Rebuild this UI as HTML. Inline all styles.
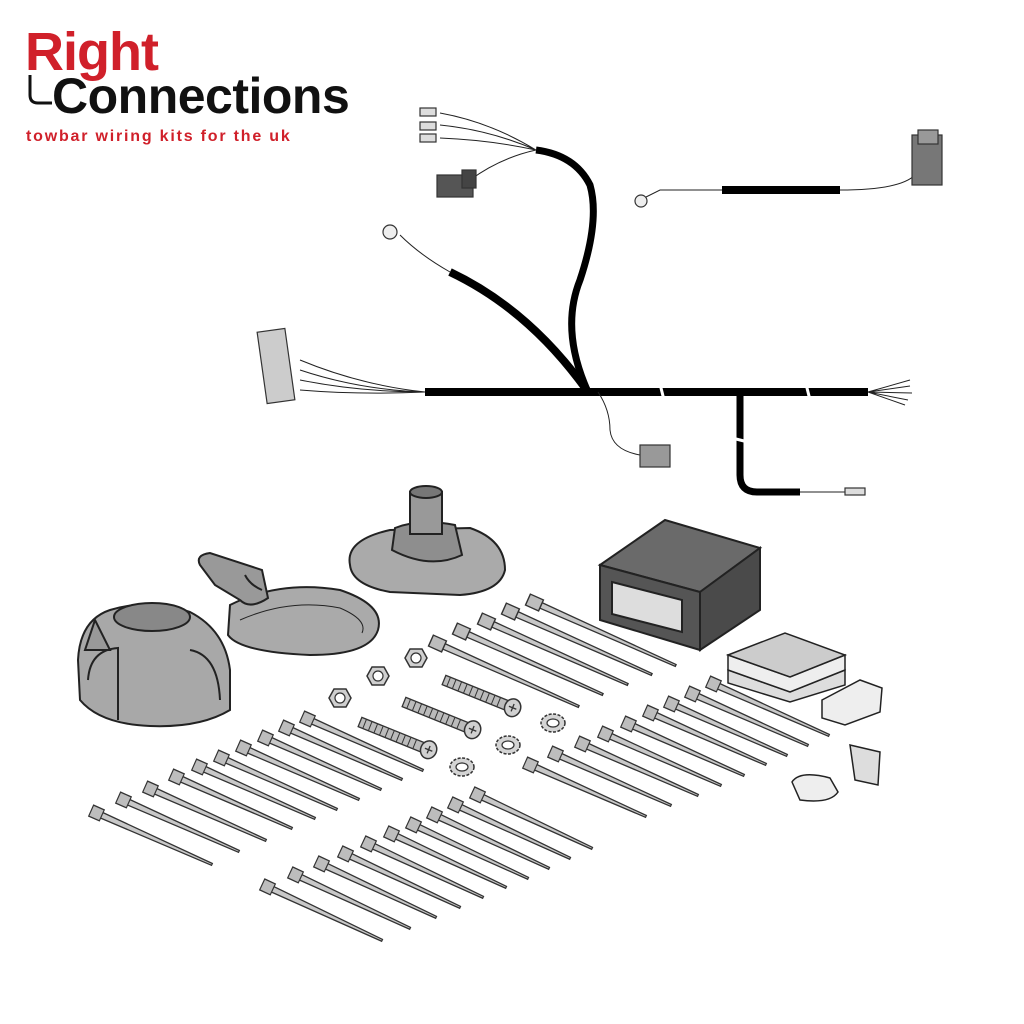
<!DOCTYPE html>
<html><head><meta charset="utf-8"><style>
html,body{margin:0;padding:0;background:#fff;width:1024px;height:1024px;overflow:hidden}
svg{display:block}
</style></head><body>
<svg width="1024" height="1024" viewBox="0 0 1024 1024" xmlns="http://www.w3.org/2000/svg">
<defs>
<g id="tie">
  <polygon points="0,-3 135,-1 135,1 0,3" fill="#c8c8c8" stroke="#333" stroke-width="1.3"/>
  <rect x="-12" y="-6" width="13" height="12" fill="#bdbdbd" stroke="#333" stroke-width="1.3"/>
</g>
<g id="washer">
  <ellipse cx="0" cy="0" rx="12" ry="9" fill="#d4d4d4" stroke="#333" stroke-width="1.5" stroke-dasharray="3 1.5"/>
  <ellipse cx="0" cy="0" rx="6" ry="4" fill="#fff" stroke="#333" stroke-width="1.2"/>
</g>
<g id="nut">
  <polygon points="-11,0 -6,-9 6,-9 11,0 6,9 -6,9" fill="#cfcfcf" stroke="#333" stroke-width="1.5"/>
  <circle r="5" fill="#fff" stroke="#333" stroke-width="1.2"/>
</g>
<g id="screw">
  <rect x="0" y="-5" width="70" height="10" fill="#bbb" stroke="#333" stroke-width="1.3"/>
  <path d="M5,-5v10M11,-5v10M17,-5v10M23,-5v10M29,-5v10M35,-5v10M41,-5v10M47,-5v10M53,-5v10M59,-5v10" stroke="#333" stroke-width="1"/>
  <ellipse cx="74" cy="0" rx="8" ry="9" fill="#d0d0d0" stroke="#333" stroke-width="1.5"/>
  <path d="M70,0h8M74,-4v8" stroke="#333" stroke-width="1.3"/>
</g>
</defs>

<!-- Logo -->
<text x="25" y="70" font-family="Liberation Sans, sans-serif" font-weight="bold" font-size="54" fill="#d0202a" letter-spacing="-1">Right</text>
<text x="52" y="113" font-family="Liberation Sans, sans-serif" font-weight="bold" font-size="50" fill="#111" letter-spacing="-0.5">Connections</text>
<path d="M30,75 v20 q0,8 8,8 h14" stroke="#111" stroke-width="3" fill="none"/>
<text x="26" y="141" font-family="Liberation Sans, sans-serif" font-weight="bold" font-size="16" fill="#d0202a" letter-spacing="1.8">towbar wiring kits for the uk</text>

<!-- Harness -->
<g fill="none" stroke="#000" stroke-linecap="butt">
  <path d="M425,392 H868" stroke-width="8"/>
  <path d="M740,392 V475 Q740,492 757,492 H800" stroke-width="7"/>
  <path d="M588,392 Q560,330 580,280 Q600,220 590,185 Q575,155 536,150" stroke-width="7"/>
  <path d="M588,392 Q530,310 450,272" stroke-width="8"/>
  <path d="M722,190 H840" stroke-width="8"/>
</g>
<g fill="none" stroke="#222" stroke-width="1">
  <path d="M536,150 Q490,130 440,125 M536,150 Q490,140 440,138 M536,150 Q490,122 440,113 M536,150 Q500,158 470,180"/>
  <path d="M450,272 Q420,255 400,235"/>
  <path d="M722,190 H660 L640,200"/>
  <path d="M840,190 Q900,190 915,175"/>
  <path d="M425,392 Q360,385 300,360 M425,392 Q360,390 300,370 M425,392 Q360,392 300,380 M425,392 Q360,395 300,390"/>
  <path d="M868,392 L910,380 M868,392 L910,386 M868,392 L912,393 M868,392 L908,400 M868,392 L905,405"/>
  <path d="M800,492 H850 M800,492 H865"/>
  <path d="M598,392 Q610,410 610,430 Q612,450 640,455"/>
</g>
<g stroke="#fff" stroke-width="3"><path d="M660,384 L664,400 M806,384 L810,400 M732,438 L748,442"/></g>
<g stroke="#333" stroke-width="1.2">
  <rect x="437" y="175" width="36" height="22" fill="#555"/>
  <rect x="462" y="170" width="14" height="18" fill="#444"/>
  <rect x="420" y="108" width="16" height="8" fill="#ddd"/>
  <rect x="420" y="122" width="16" height="8" fill="#ddd"/>
  <rect x="420" y="134" width="16" height="8" fill="#ddd"/>
  <circle cx="390" cy="232" r="7" fill="#eee"/>
  <circle cx="641" cy="201" r="6" fill="#eee"/>
  <rect x="912" y="135" width="30" height="50" fill="#777"/>
  <rect x="918" y="130" width="20" height="14" fill="#999"/>
  <rect x="262" y="330" width="28" height="72" fill="#ccc" transform="rotate(-8 276 366)"/>
  <rect x="640" y="445" width="30" height="22" fill="#999"/>
  <rect x="845" y="488" width="20" height="7" fill="#ddd"/>
</g>

<!-- Socket -->
<g stroke="#222" stroke-width="2">
  <path d="M80,700 L78,660 Q80,620 110,610 Q150,598 190,612 Q225,630 230,670 L230,710 Q200,728 150,726 Q100,724 80,700Z" fill="#a8a8a8"/>
  <ellipse cx="152" cy="617" rx="38" ry="14" fill="#888"/>
  <path d="M88,680 Q90,650 118,648 L118,720 M190,650 Q218,655 220,700" fill="none"/>
  <path d="M95,620 L85,650 L110,650Z" fill="#999"/>
</g>
<!-- Gasket -->
<g stroke="#222" stroke-width="2">
  <path d="M230,605 Q280,580 340,590 Q385,605 378,630 Q370,655 310,655 Q240,652 228,635Z" fill="#aaa"/>
  <path d="M240,620 Q290,598 340,608 Q368,620 362,633" fill="none" stroke-width="1"/>
  <path d="M200,565 Q195,555 210,553 L262,570 L268,598 Q250,610 240,600 L215,585Z" fill="#999"/>
  <path d="M245,575 Q250,585 262,590" fill="none"/>
</g>
<!-- Plate -->
<g stroke="#222" stroke-width="2">
  <path d="M350,565 Q345,540 390,530 L470,528 Q505,540 505,570 Q500,592 460,595 L390,592 Q352,585 350,565Z" fill="#aaa"/>
  <path d="M392,550 L395,528 Q420,518 455,525 L462,555 Q430,570 392,550Z" fill="#8e8e8e"/>
  <rect x="410" y="492" width="32" height="42" fill="#999"/>
  <ellipse cx="426" cy="492" rx="16" ry="6" fill="#777"/>
</g>
<!-- Module -->
<g stroke="#222" stroke-width="2">
  <path d="M600,565 L665,520 L760,548 L700,592Z" fill="#6a6a6a"/>
  <path d="M600,565 L700,592 L700,650 L600,620Z" fill="#555"/>
  <path d="M700,592 L760,548 L760,610 L700,650Z" fill="#4a4a4a"/>
  <path d="M612,582 L682,600 L682,632 L612,614Z" fill="#ddd"/>
</g>
<!-- pads -->
<g stroke="#222" stroke-width="1.5">
  <path d="M728,670 L790,692 L845,670 L845,685 L790,702 L728,683Z" fill="#ddd"/>
  <path d="M728,655 L790,677 L845,655 L845,670 L790,692 L728,670Z" fill="#eee"/>
  <path d="M728,655 L785,633 L845,655 L790,677Z" fill="#ccc"/>
  <path d="M822,700 L860,680 L882,688 L880,712 L845,725 L822,718Z" fill="#eee"/>
  <path d="M850,745 L880,752 L878,785 L855,780Z" fill="#ddd"/>
  <path d="M792,782 Q800,770 830,778 L838,792 Q830,804 800,800Z" fill="#eee"/>
</g>
<use href="#nut" x="340" y="698"/>
<use href="#nut" x="378" y="676"/>
<use href="#nut" x="416" y="658"/>
<use href="#screw" transform="translate(360,722) rotate(22)"/>
<use href="#screw" transform="translate(404,702) rotate(22)"/>
<use href="#screw" transform="translate(444,680) rotate(22)"/>
<use href="#washer" x="462" y="767"/>
<use href="#washer" x="508" y="745"/>
<use href="#washer" x="553" y="723"/>

<g>
<use href="#tie" transform="translate(101,815) rotate(24) scale(0.9,1)"/>
<use href="#tie" transform="translate(128,802) rotate(24) scale(0.9,1)"/>
<use href="#tie" transform="translate(155,791) rotate(24) scale(0.9,1)"/>
<use href="#tie" transform="translate(181,779) rotate(24) scale(0.9,1)"/>
<use href="#tie" transform="translate(204,769) rotate(24) scale(0.9,1)"/>
<use href="#tie" transform="translate(226,760) rotate(24) scale(0.9,1)"/>
<use href="#tie" transform="translate(248,750) rotate(24) scale(0.9,1)"/>
<use href="#tie" transform="translate(270,740) rotate(24) scale(0.9,1)"/>
<use href="#tie" transform="translate(291,730) rotate(24) scale(0.9,1)"/>
<use href="#tie" transform="translate(312,721) rotate(24) scale(0.9,1)"/>
<use href="#tie" transform="translate(443,646) rotate(24) scale(1.1,1)"/>
<use href="#tie" transform="translate(467,634) rotate(24) scale(1.1,1)"/>
<use href="#tie" transform="translate(492,624) rotate(24) scale(1.1,1)"/>
<use href="#tie" transform="translate(516,614) rotate(24) scale(1.1,1)"/>
<use href="#tie" transform="translate(540,605) rotate(24) scale(1.1,1)"/>
<use href="#tie" transform="translate(272,889) rotate(25) scale(0.9,1)"/>
<use href="#tie" transform="translate(300,877) rotate(25) scale(0.9,1)"/>
<use href="#tie" transform="translate(326,866) rotate(25) scale(0.9,1)"/>
<use href="#tie" transform="translate(350,856) rotate(25) scale(0.9,1)"/>
<use href="#tie" transform="translate(373,846) rotate(25) scale(0.9,1)"/>
<use href="#tie" transform="translate(396,836) rotate(25) scale(0.9,1)"/>
<use href="#tie" transform="translate(418,827) rotate(25) scale(0.9,1)"/>
<use href="#tie" transform="translate(439,817) rotate(25) scale(0.9,1)"/>
<use href="#tie" transform="translate(460,807) rotate(25) scale(0.9,1)"/>
<use href="#tie" transform="translate(482,797) rotate(25) scale(0.9,1)"/>
<use href="#tie" transform="translate(535,767) rotate(24) scale(0.9,1)"/>
<use href="#tie" transform="translate(560,756) rotate(24) scale(0.9,1)"/>
<use href="#tie" transform="translate(587,746) rotate(24) scale(0.9,1)"/>
<use href="#tie" transform="translate(610,736) rotate(24) scale(0.9,1)"/>
<use href="#tie" transform="translate(633,726) rotate(24) scale(0.9,1)"/>
<use href="#tie" transform="translate(655,715) rotate(24) scale(0.9,1)"/>
<use href="#tie" transform="translate(676,706) rotate(24) scale(0.9,1)"/>
<use href="#tie" transform="translate(697,696) rotate(24) scale(0.9,1)"/>
<use href="#tie" transform="translate(718,686) rotate(24) scale(0.9,1)"/>
</g>
</svg>
</body></html>
